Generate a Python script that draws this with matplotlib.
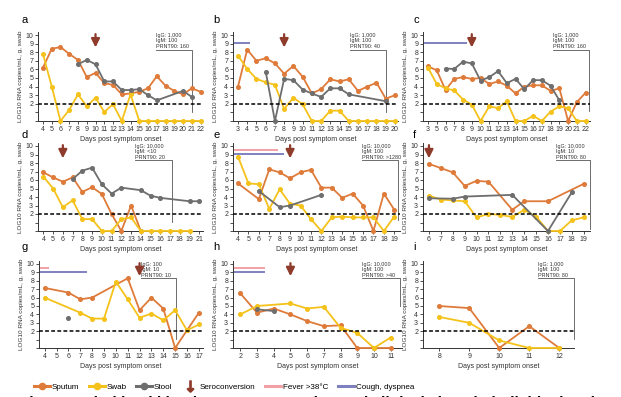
import numpy as np
import matplotlib

matplotlib.use("Agg")
import matplotlib.pyplot as plt
from matplotlib.lines import Line2D

plt.rcParams["font.family"] = ["Liberation Sans", "DejaVu Sans"]

# ---- data (LOG10 RNA copies/mL; None = no sample) ----
a_days = [4, 5, 6, 7, 8, 9, 10, 11, 12, 13, 14, 15, 16, 17, 18, 19, 20, 21, 22]
a_sputum = [6.2, 8.4, 8.6, 7.8, 7.1, 5.1, 5.6, 4.4, 4.2, 3.1, 3.2, 3.4, 3.8, 5.2, 4.1, 3.5, 3.1, 3.8, 3.4]
a_swab = [7.8, 4.0, 0, 1.3, 3.1, 1.7, 2.7, 1.05, 1.95, 0, 3.1, 0, 0, 0, 0, 0, 0, 0, 0]
a_stool = [None, None, None, None, 6.6, 7.1, 6.6, 4.6, 4.6, 3.6, 3.6, 3.7, 3.0, 2.4, None, None, 3.5, 2.8, None]

b_days = [3, 4, 5, 6, 7, 8, 9, 10, 11, 12, 13, 14, 15, 16, 17, 18, 19, 20]
b_sputum = [4.0, 8.3, 7.0, 7.3, 6.7, 5.5, 6.4, 5.15, 3.2, 3.7, 4.85, 4.6, 4.85, 3.5, 4.0, 4.45, 2.6, 3.0]
b_swab = [7.6, 6.05, 4.9, 4.5, 4.2, 1.4, 2.7, 1.95, 0, 0, 1.2, 1.2, 0, 0, 0, 0, 0, 0]
b_stool = [None, None, None, 5.75, 0, 4.9, 4.75, 3.65, 3.2, 2.8, 3.8, 3.8, 3.1, None, None, None, 2.3, None]

c_days = [3, 5, 6, 7, 8, 9, 10, 11, 12, 13, 14, 15, 16, 17, 18, 19, 20, 21, 22]
c_sputum = [6.35, 5.9, 3.6, 4.9, 5.1, 4.9, 5.0, 4.3, 4.6, 4.1, 3.2, 4.0, 4.15, 4.15, 3.5, 3.8, 0, 2.2, 3.3]
c_swab = [6.2, 4.3, 3.8, 3.55, 2.5, 1.9, 0, 1.7, 1.5, 2.3, 0, 0, 0.6, 0, 1.1, 1.7, 1.5, 0, 0]
c_stool = [None, None, 6.1, 6.05, 6.9, 6.7, 4.7, 5.1, 5.8, 4.4, 4.9, 3.7, 4.75, 4.75, 4.1, 2.4, None, None, None]

d_days = [4, 5, 6, 7, 8, 9, 10, 11, 12, 13, 14, 15, 16, 17, 18, 19, 21]
d_sputum = [6.9, 6.3, 5.8, 6.3, 4.6, 5.15, 4.35, 2.0, 0, 3.0, 0, None, None, None, None, None, None]
d_swab = [6.4, 5.0, 2.8, 3.6, 1.4, 1.4, 0, 0, 1.4, 1.6, 0, 0, 0, 0, 0, 0, None]
d_stool = [None, None, None, 6.1, 7.1, 7.45, 5.5, 4.4, 5.1, None, 4.8, 4.15, 3.9, None, None, 3.5, 3.5]

e_days = [4, 5, 6, 7, 8, 9, 10, 11, 12, 13, 14, 15, 16, 17, 18, 19]
e_sputum = [5.6, None, 3.75, 7.25, 6.9, 6.2, 6.9, 7.2, 5.1, 5.1, 3.9, 4.4, 3.0, 0, 4.4, 2.5]
e_swab = [8.75, 5.6, 5.5, 2.6, 4.9, 3.2, 3.0, 1.4, 0, 1.6, 1.7, 1.6, 1.6, 1.6, 0, 1.7]
e_stool = [None, None, 4.7, None, 2.8, 3.0, None, None, 4.25, None, None, None, None, None, None, None]

f_days = [6, 7, 8, 9, 10, 11, 12, 13, 14, 15, 16, 17, 18, 19]
f_sputum = [7.9, 7.4, 6.9, 5.3, 5.9, 5.8, None, 2.5, 3.5, None, 3.5, None, None, 5.55]
f_swab = [4.15, 3.7, 3.6, 3.5, 1.6, 2.0, 1.9, 1.65, 2.5, 1.7, 0, 0, 1.25, 1.6]
f_stool = [3.85, None, 3.8, 4.05, None, None, None, 4.25, None, None, 0, None, 4.55, None]

g_days = [4, 5, 6, 7, 8, 9, 10, 11, 12, 13, 14, 15, 16, 17]
g_sputum = [7.15, None, 6.6, 5.8, 6.0, None, None, 8.3, 4.5, 6.0, 4.7, 0, 2.1, 4.2]
g_swab = [6.0, None, None, 4.2, 3.5, 3.5, 7.9, 5.8, 3.6, 4.1, 3.3, 4.5, 2.1, 2.8]
g_stool = [None, None, 3.6, None, None, None, None, None, None, None, None, None, None, None]

h_days = [2, 3, 4, 5, 6, 7, 8, 9, 10, 11]
h_sputum = [6.5, 4.2, 4.7, 4.0, 3.2, 2.6, 2.7, 0, 0, 0]
h_swab = [4.0, 5.0, None, 5.3, 4.7, 4.9, 2.4, 1.8, 0, 1.25]
h_stool = [None, 4.6, 4.4, None, None, None, None, None, None, None]

i_days = [8, 9, 10, 11, 12]
i_sputum = [5.0, 4.75, 0, 2.6, 0]
i_swab = [3.7, 3.0, 0.9, 0, 0]
i_stool = [None, None, None, None, None]

# serology: IgG, IgM, PRNT90
serology = {
    "a": ("1,000", "100", "160"),
    "b": ("1,000", "100", "40"),
    "c": ("1,000", "100", "160"),
    "d": ("10,000", "<10", "20"),
    "e": ("10,000", "100", ">1280"),
    "f": ("10,000", "10", "80"),
    "g": ("100", "10", "10"),
    "h": ("10,000", "100", ">40"),
    "i": ("1,000", "100", "80"),
}
seroconversion_day = {"a": 10, "b": 8, "c": 9, "d": 6, "e": 9, "f": 6, "g": 12, "h": 5, "i": None}
fever_until = {"e": 7.8, "g": 4.4, "h": 3.45}
cough_until = {"b": 4.35, "c": 7.4, "e": 8.4, "g": 7.6, "h": 3.45}

panels = {
    "a": (a_days, a_sputum, a_swab, a_stool),
    "b": (b_days, b_sputum, b_swab, b_stool),
    "c": (c_days, c_sputum, c_swab, c_stool),
    "d": (d_days, d_sputum, d_swab, d_stool),
    "e": (e_days, e_sputum, e_swab, e_stool),
    "f": (f_days, f_sputum, f_swab, f_stool),
    "g": (g_days, g_sputum, g_swab, g_stool),
    "h": (h_days, h_sputum, h_swab, h_stool),
    "i": (i_days, i_sputum, i_swab, i_stool),
}

# ---- layout (pixels) ----
W, H = 621, 397
# left, right, y(0) px, y(10) px, xlim pad left, pad right, text x (index), bracket x (index), bracket bottom
layout = {
    "a": (38, 203, 121, 35, 0.57, 0.28, 12.9, 17.0, 1.05),
    "b": (233, 398, 121, 35, 0.54, 0.33, 12.1, 16.0, 1.05),
    "c": (423, 590, 121, 35, 0.57, 0.5, 14.3, 18.4, 1.2),
    "d": (38, 203, 231, 146, 0.55, 0.38, 9.45, 13.15, 1.1),
    "e": (233, 400, 231, 146, 0.48, 0.55, 11.9, 15.4, 1.3),
    "f": (423, 590, 231, 146, 0.5, 0.53, 10.65, 13.5, 0.2),
    "g": (39, 203, 348, 264, 0.48, 0.35, 8.15, 11.1, 1.1),
    "h": (233, 402, 348, 264, 0.44, 0.68, 7.26, 9.56, 5.0),
    "i": (423, 574, 348, 264, 0.54, 0.49, 3.3, 4.49, 1.1),
}
letter_pos = {"a": (22, 20), "b": (213, 20), "c": (413, 20),
              "d": (22, 135), "e": (213, 135), "f": (413, 135),
              "g": (22, 247), "h": (213, 247), "i": (413, 247)}

c_sputum_col = "#DF7B3A"
c_swab_col = "#F5C21B"
c_stool_col = "#6E6E6E"
c_arrow = "#8E3B2B"
c_fever = "#F2A0A6"
c_cough = "#7F80C0"
YTOP = 10.3

fig = plt.figure(figsize=(W / 100, H / 100), dpi=100)
fig.patch.set_facecolor("white")


def draw_series(ax, vals, color):
    x = [i for i, v in enumerate(vals) if v is not None]
    y = [v for v in vals if v is not None]
    if not x:
        return
    ax.plot(x, y, color=color, lw=1.3, marker="o", ms=2.6, mec=color, mfc=color,
            clip_on=False, zorder=3)


for key, (days, sputum, swab, stool) in panels.items():
    L, R, y0, y10, padl, padr, tx, bx, bbot = layout[key]
    unit = (y0 - y10) / 10.0
    top = y10 - (YTOP - 10) * unit
    ax = fig.add_axes([L / W, 1 - y0 / H, (R - L) / W, (y0 - top) / H])
    n = len(days)
    ax.set_xlim(-padl, n - 1 + padr)
    ax.set_ylim(0, YTOP)

    draw_series(ax, sputum, c_sputum_col)
    draw_series(ax, swab, c_swab_col)
    draw_series(ax, stool, c_stool_col)

    ax.axhline(2, color="black", lw=1.1, ls=(0, (2.5, 1.5)), zorder=5)

    # clinical signs bars
    if key in fever_until:
        ax.plot([-padl, fever_until[key] - days[0]], [9.55, 9.55],
                color=c_fever, lw=1.4, solid_capstyle="butt", zorder=2)
    if key in cough_until:
        ax.plot([-padl, cough_until[key] - days[0]], [9.1, 9.1],
                color=c_cough, lw=1.4, solid_capstyle="butt", zorder=2)

    # seroconversion arrow
    sd = seroconversion_day[key]
    if sd is not None:
        xi = days.index(sd)
        ax.annotate("", xy=(xi, 8.55), xytext=(xi, 10.1),
                    arrowprops=dict(arrowstyle="-|>,head_length=0.5,head_width=0.25",
                                    color=c_arrow, lw=1.6, shrinkA=0, shrinkB=0),
                    zorder=6, annotation_clip=False)

    # serology annotation with bracket
    igg, igm, prnt = serology[key]
    ax.text(tx, 10.25, f"IgG: {igg}\nIgM: {igm}\nPRNT90: {prnt}", fontsize=3.9,
            va="top", ha="left", color="#333333", linespacing=1.15)
    ax.plot([tx, bx, bx], [8.3, 8.3, bbot], color="#555555", lw=0.6, clip_on=False, zorder=2)

    ax.set_xticks(range(n))
    ax.set_xticklabels([str(d) for d in days])
    ax.set_yticks(range(11))
    ax.set_yticklabels(["", ""] + [str(v) for v in range(2, 11)])
    ax.tick_params(labelsize=5, length=2, width=0.6, pad=1.5, colors="#333333")
    for s in ["top", "right"]:
        ax.spines[s].set_visible(False)
    for s in ["left", "bottom"]:
        ax.spines[s].set_linewidth(0.7)
        ax.spines[s].set_color("#333333")
    ax.set_xlabel("Days post symptom onset", fontsize=5, labelpad=2, color="#333333")
    ax.set_ylabel("LOG10 RNA copies/mL, g, swab", fontsize=4.6, labelpad=2, color="#333333")
    ax.patch.set_alpha(0)

    lx, ly = letter_pos[key]
    fig.text(lx / W, 1 - ly / H, key, fontsize=8, ha="left", va="center")

# legend
handles = [
    Line2D([], [], color=c_sputum_col, lw=2.2, marker="o", ms=4.5),
    Line2D([], [], color=c_swab_col, lw=2.2, marker="o", ms=4.5),
    Line2D([], [], color=c_stool_col, lw=2.2, marker="o", ms=4.5),
    Line2D([], [], color=c_arrow, lw=0, marker=r"$\downarrow$", ms=8),
    Line2D([], [], color=c_fever, lw=2.2),
    Line2D([], [], color=c_cough, lw=2.2),
]
labels = ["Sputum", "Swab", "Stool", "Seroconversion", "Fever >38°C", "Cough, dyspnea"]
fig.legend(handles, labels, loc="center", bbox_to_anchor=(224 / W, 1 - 387 / H), ncol=6,
           frameon=False, fontsize=5.8, handlelength=2.0, handletextpad=0.2,
           columnspacing=1.2)

# caption (cropped at bottom of image, only the top of the letters shows)
fig.text(20 / W, 1 - 407 / H, "Figure 2 Viral load kinetics, seroconversion and clinical signs in individual patients",
         fontsize=11, fontweight="bold", ha="left", va="baseline")

fig.savefig("out.png", dpi=100, facecolor="white")
